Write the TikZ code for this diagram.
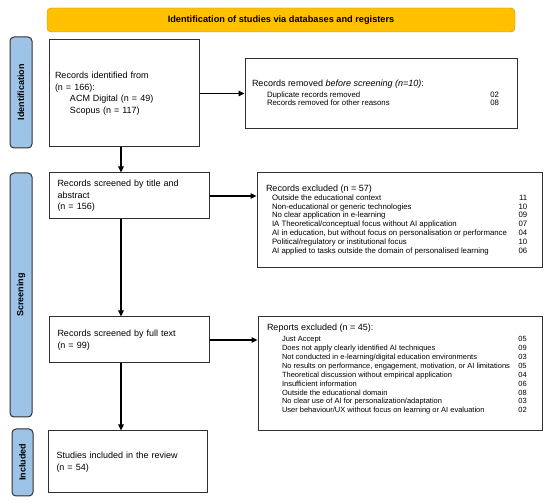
\documentclass[tikz,border=0pt]{standalone}
\usepackage{fontspec}
\setmainfont{Liberation Sans}
\usepackage{xcolor}
\usepackage{tikz}
\usetikzlibrary{shapes.geometric, arrows, arrows.meta}
\definecolor{bannerfill}{HTML}{FFC000}
\definecolor{bannerdraw}{HTML}{BF9000}
\definecolor{phasefill}{HTML}{9DC3E6}
\definecolor{boxdraw}{HTML}{303030}
\tikzstyle{banner} = [rectangle, rounded corners=4pt,
minimum width=468pt,
minimum height=24pt,
text centered,
draw=bannerdraw,
fill=bannerfill,
font=\bfseries\fontsize{9.2}{11}\selectfont]
\tikzstyle{phase} = [rectangle, rounded corners=4pt,
rotate=90,
minimum height=22pt,
inner sep=0pt,
draw=boxdraw, line width=1pt,
fill=phasefill,
font=\bfseries\fontsize{9}{11}\selectfont]
\tikzstyle{record} = [rectangle,
minimum height=46pt,
text width=143pt,
inner xsep=8.5pt,
align=left,
draw=boxdraw, line width=1pt,
font=\fontsize{9}{11.5}\selectfont]
\tikzstyle{removal} = [rectangle,
inner sep=0pt,
draw=boxdraw, line width=1pt,
font=\fontsize{7.8}{8.9}\selectfont]
\tikzstyle{arrow} = [line width=1.2pt,-{Triangle[length=6pt,width=5.5pt]}]
\newcommand{\headline}[1]{{\fontsize{9}{11}\selectfont #1}}

\begin{document}
\begin{tikzpicture}[x=1pt, y=1pt, node distance=144pt]
\useasboundingbox (0,0) rectangle (550,504);

\node (banner) [banner] at (281,484) {Identification of studies via databases and registers};

% phases
\node (phaseid) [phase, minimum width=111pt] at (21,411.5) {Identification};
\node (phasescr) [phase, minimum width=244pt] at (21,209) {Screening};
\node (phaseinc) [phase, minimum width=67pt, minimum height=21pt] at (22.5,41.5) {Included};

% main column
\node (ident) [record, minimum height=107pt, text width=138pt, inner xsep=6pt] at (124,410.5) {Records identified from\\(n = 166):\\\hspace*{15pt}ACM Digital (n = 49)\\\hspace*{15pt}Scopus (n = 117)};
\node (screen) [record, below of=ident, xshift=5pt, yshift=41.5pt] {Records screened by title and\\abstract\\(n = 156)};
\node (fulltext) [record, below of=screen] {Records screened by full text\\(n = 99)};
\node (included) [record, below of=fulltext, xshift=-1.5pt, yshift=22pt, minimum height=62pt, text width=142pt] {Studies included in the review\\(n = 54)};

% removals
\node (removed) [removal, right of=ident, xshift=113pt, yshift=-0.5pt, minimum width=272pt, minimum height=70pt, font=\fontsize{7.8}{8.3}\selectfont] {%
\begin{tabular*}{272pt}{@{\hspace{22pt}}l@{\extracolsep{\fill}}r@{\hspace{18pt}}}
\multicolumn{2}{@{\hspace{7pt}}l@{}}{\headline{Records removed \textit{before screening (n=10)}:}}\\[2pt]
Duplicate records removed & 02\\
Records removed for other reasons & 08
\end{tabular*}};
\node (excluded) [removal, right of=screen, xshift=126.5pt, yshift=-24.5pt, minimum width=285pt, minimum height=95pt] {%
\begin{tabular*}{285pt}{@{\hspace{15pt}}l@{\extracolsep{\fill}}r@{\hspace{14.7pt}}}
\multicolumn{2}{@{\hspace{9pt}}l@{}}{\headline{Records excluded (n = 57)}}\\
Outside the educational context & 11\\
Non-educational or generic technologies & 10\\
No clear application in e-learning & 09\\
IA Theoretical/conceptual focus without AI application & 07\\
AI in education, but without focus on personalisation or performance & 04\\
Political/regulatory or institutional focus & 10\\
AI applied to tasks outside the domain of personalised learning & 06
\end{tabular*}};
\node (reports) [removal, right of=fulltext, xshift=127pt, yshift=-34pt, minimum width=284pt, minimum height=114pt, font=\fontsize{7.5}{8.9}\selectfont] {%
\begin{tabular*}{284pt}{@{\hspace{24pt}}l@{\extracolsep{\fill}}r@{\hspace{15.3pt}}}
\multicolumn{2}{@{\hspace{9pt}}l@{}}{\headline{Reports excluded (n = 45):}}\\[1.8pt]
Just Accept & 05\\
Does not apply clearly identified AI techniques & 09\\
Not conducted in e-learning/digital education environments & 03\\
No results on performance, engagement, motivation, or AI limitations & 05\\
Theoretical discussion without empirical application & 04\\
Insufficient information & 06\\
Outside the educational domain & 08\\
No clear use of AI for personalization/adaptation & 03\\
User behaviour/UX without focus on learning or AI evaluation & 02\\[8pt]
\end{tabular*}};

\coordinate (spine) at (121,0);

\draw [arrow] (ident.south -| spine) -- (screen.north -| spine);
\draw [arrow] (screen.south -| spine) -- (fulltext.north -| spine);
\draw [arrow] (fulltext.south -| spine) -- (included.north -| spine);
\draw [arrow] (ident.east) -- (ident.east -| removed.west);
\draw [arrow] (screen.east) -- (screen.east -| excluded.west);
\draw [arrow] (fulltext.east) -- (fulltext.east -| reports.west);

\end{tikzpicture}
\end{document}
